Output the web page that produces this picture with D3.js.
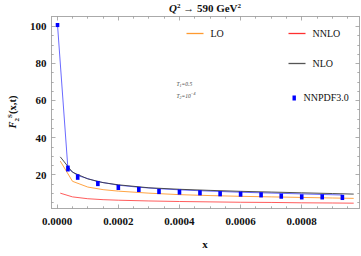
<!DOCTYPE html>
<html>
<head>
<meta charset="utf-8">
<script src="https://cdn.jsdelivr.net/npm/d3@7"></script>
<style>
  body { margin: 0; background: #fff; }
  text { font-family: "Liberation Serif", "DejaVu Serif", serif; }
  .tick-label { font-size: 11px; font-weight: bold; fill: #111; }
  .legend-label { font-size: 10px; fill: #111; }
</style>
</head>
<body>
<div id="chart"></div>
<script>
// model curves (LO / NLO / NNLO) share one x grid
const modelX = [0.00001, 0.00005, 0.0001, 0.00015, 0.0002, 0.0003, 0.0004, 0.0005, 0.0006, 0.0007, 0.0008, 0.0009, 0.00097];
const loY    = [27.4, 16.5, 13.4, 12.0, 11.2, 10.1, 9.3, 8.8, 8.4, 8.1, 7.8, 7.5, 7.3];
const nloY   = [29.7, 21.4, 17.8, 15.8, 14.6, 13.0, 12.2, 11.6, 11.1, 10.7, 10.3, 9.9, 9.6];
const nnloY  = [10.1, 8.1, 7.1, 6.6, 6.3, 5.9, 5.6, 5.4, 5.2, 5.1, 4.9, 4.8, 4.7];

// NNPDF3.0 points, error and the blue line through them
const nnpdfX   = [0.000001, 0.000035, 0.000067, 0.000133, 0.0002, 0.000267, 0.000333, 0.0004, 0.000467, 0.000533, 0.0006, 0.000667, 0.000733, 0.0008, 0.000867, 0.000933];
const nnpdfY   = [100.8, 23.4, 18.8, 15.3, 13.2, 12.1, 11.0, 10.7, 10.3, 9.8, 9.6, 9.2, 8.5, 8.1, 8.1, 7.8];
const nnpdfErr = [1.1, 1.6, 1.5, 1.4, 1.4, 1.4, 1.4, 1.4, 1.4, 1.4, 1.4, 1.4, 1.4, 1.4, 1.4, 1.4];
const blueY    = [100.8, 23.4, 19.6, 16.3, 14.4, 13.3, 12.5, 11.9, 11.4, 11.0, 10.6, 10.3, 10.0, 9.7, 9.4, 9.1];

const xTicks = [0, 0.0002, 0.0004, 0.0006, 0.0008];
const yTicks = [20, 40, 60, 80, 100];

const W = 361, H = 256;
const margin = { top: 16, right: 2, bottom: 48, left: 51 };
const w = W - margin.left - margin.right;
const h = H - margin.top - margin.bottom;

const svg = d3.select("#chart").append("svg")
  .attr("width", W).attr("height", H);

const x = d3.scaleLinear().domain([-0.0000187, 0.000989]).range([0, w]);
const y = d3.scaleLinear().domain([1.83, 105.4]).range([h, 0]);

const g = svg.append("g").attr("transform", `translate(${margin.left + 0.5},${margin.top + 0.5})`);

// frame
g.append("rect").attr("width", w).attr("height", h)
  .attr("fill", "none").attr("stroke", "#aaa").attr("stroke-width", 1);

// inward ticks on all four sides (major + minor)
const xMinor = d3.range(0, 0.00099, 0.00005);
const yMinor = d3.range(5, 105, 5);
const tickCol = "#999";
xMinor.forEach(v => {
  const major = xTicks.some(t => Math.abs(t - v) < 1e-9);
  const len = major ? 4 : 2.2;
  const px = Math.round(x(v));
  g.append("line").attr("x1", px).attr("x2", px).attr("y1", h).attr("y2", h - len)
    .attr("stroke", tickCol).attr("stroke-width", 0.8);
  g.append("line").attr("x1", px).attr("x2", px).attr("y1", 0).attr("y2", len)
    .attr("stroke", tickCol).attr("stroke-width", 0.8);
});
yMinor.forEach(v => {
  const major = yTicks.includes(v);
  const len = major ? 4 : 2.2;
  const py = Math.round(y(v));
  g.append("line").attr("x1", 0).attr("x2", len).attr("y1", py).attr("y2", py)
    .attr("stroke", tickCol).attr("stroke-width", 0.8);
  g.append("line").attr("x1", w).attr("x2", w - len).attr("y1", py).attr("y2", py)
    .attr("stroke", tickCol).attr("stroke-width", 0.8);
});

// tick labels
g.selectAll(".xl").data(xTicks).enter().append("text")
  .attr("class", "tick-label")
  .attr("x", d => x(d)).attr("y", h + 16)
  .attr("text-anchor", "middle")
  .text(d => d3.format(".4f")(d));
g.selectAll(".yl").data(yTicks).enter().append("text")
  .attr("class", "tick-label")
  .attr("x", -5).attr("y", d => y(d) + 3.8)
  .attr("text-anchor", "end")
  .text(d => d);

// curves
const line = d3.line().x(d => x(d[0])).y(d => y(d[1]));
const curve = (xs, ys, color, width, op) =>
  g.append("path").datum(d3.zip(xs, ys)).attr("d", line)
    .attr("fill", "none").attr("stroke", color)
    .attr("stroke-width", width).attr("stroke-opacity", op);

curve(modelX, nnloY, "#ff4040", 1, 0.85);
curve(modelX, loY, "#ff9a30", 1, 0.9);
curve(nnpdfX, blueY, "#3838ff", 1, 0.75);
curve(modelX, nloY, "#333", 1, 0.85);

// NNPDF3.0 markers with error extent
g.selectAll(".pt").data(d3.zip(nnpdfX, nnpdfY, nnpdfErr)).enter().append("rect")
  .attr("x", d => x(d[0]) - 1.8)
  .attr("y", d => y(d[1] + d[2]))
  .attr("width", 3.6)
  .attr("height", d => y(d[1] - d[2]) - y(d[1] + d[2]))
  .attr("fill", "#0000ff");

// legend
const legend = [
  { label: "LO",   color: "#ff9a30", lx: 186 - margin.left, ly: 33 - margin.top },
  { label: "NNLO", color: "#ff3030", lx: 288 - margin.left, ly: 33 - margin.top },
  { label: "NLO",  color: "#555",    lx: 288 - margin.left, ly: 63 - margin.top }
];
legend.forEach(l => {
  g.append("line").attr("x1", l.lx).attr("x2", l.lx + 17).attr("y1", l.ly).attr("y2", l.ly)
    .attr("stroke", l.color).attr("stroke-width", 1.3);
  g.append("text").attr("class", "legend-label")
    .attr("x", l.lx + 24).attr("y", l.ly + 3.5).text(l.label);
});
g.append("rect").attr("x", 292 - margin.left).attr("y", 95 - margin.top)
  .attr("width", 3.4).attr("height", 5).attr("fill", "#0000ff");
g.append("text").attr("class", "legend-label")
  .attr("x", 303 - margin.left).attr("y", 100.5 - margin.top).text("NNPDF3.0");

// parameter note
const note = g.append("g").attr("transform", `translate(${176 - margin.left},${85 - margin.top})`)
  .style("font-size", "5.5px").style("font-style", "italic").attr("fill", "#444");
note.append("text").html('T<tspan dy="1.2" font-size="4px">1</tspan><tspan dy="-1.2">=0.5</tspan>');
note.append("text").attr("y", 12).html('T<tspan dy="1.2" font-size="4px">2</tspan><tspan dy="-1.2">=10</tspan><tspan dy="-2.4" font-size="4px">−4</tspan>');

// title
svg.append("text").attr("x", 205).attr("y", 12)
  .attr("text-anchor", "middle")
  .style("font-size", "11px").style("font-weight", "bold").attr("fill", "#111")
  .html('<tspan font-style="italic">Q</tspan><tspan dy="-4" font-size="7px">2</tspan><tspan dy="4"> → 590 GeV</tspan><tspan dy="-4" font-size="7px">2</tspan>');

// axis labels
svg.append("text").attr("x", 205).attr("y", 248)
  .attr("text-anchor", "middle")
  .style("font-size", "11px").style("font-weight", "bold").attr("fill", "#111")
  .text("x");

svg.append("text")
  .attr("transform", "translate(16,112) rotate(-90)")
  .attr("text-anchor", "middle")
  .style("font-size", "10.5px").style("font-weight", "bold").attr("fill", "#111")
  .html('<tspan font-style="italic">F</tspan><tspan dy="3" font-size="7px">2</tspan><tspan dy="-7" font-size="7px">S</tspan><tspan dy="4">(x,t)</tspan>');
</script>
</body>
</html>
